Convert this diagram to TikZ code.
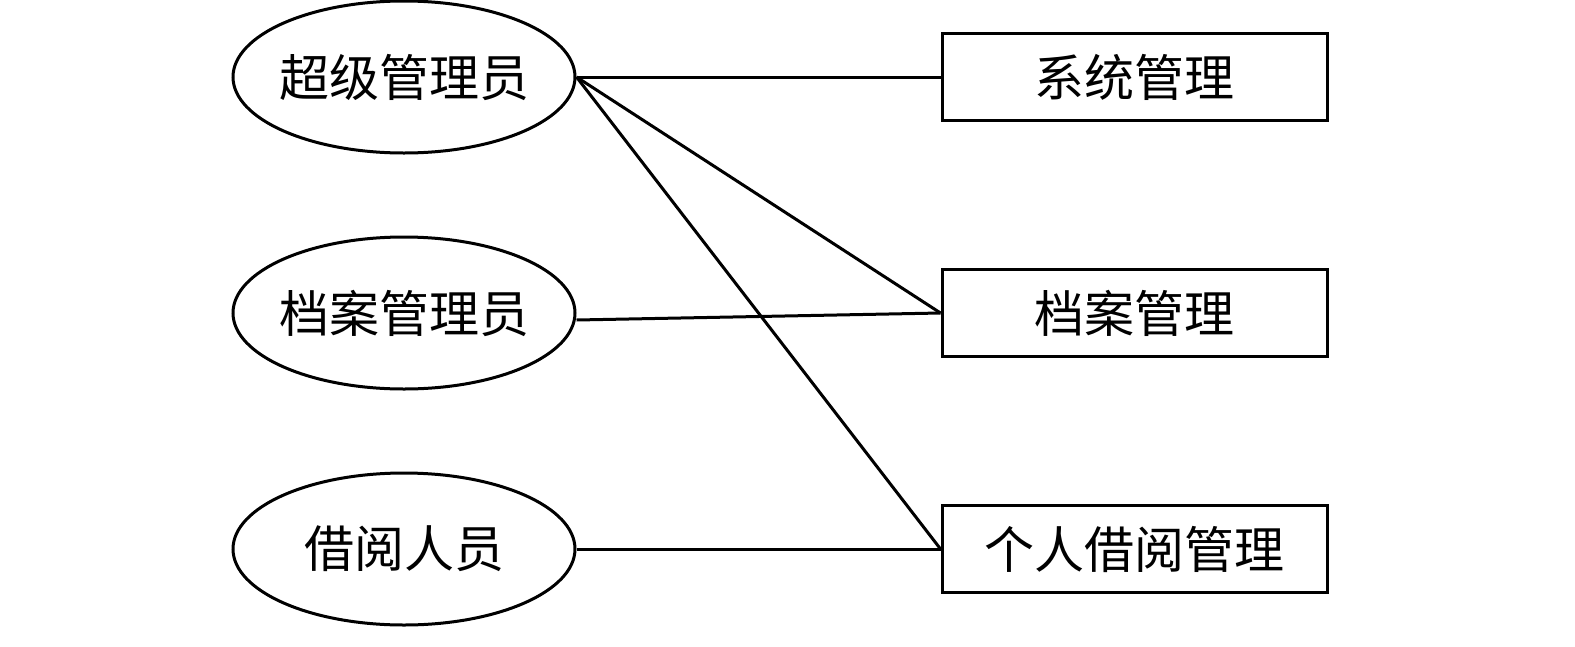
\documentclass[tikz,border=0pt]{standalone}
\usepackage{fontspec}
\setmainfont{Noto Sans CJK SC}
\usetikzlibrary{positioning, shapes.geometric}

\begin{document}
\begin{tikzpicture}[x=1pt, y=-1pt, node distance=81pt and 364pt,
role/.style={ellipse, draw=black, line width=3pt, minimum width=342pt, minimum height=152pt, inner xsep=-10pt, inner ysep=0pt, font=\fontsize{50}{56}\selectfont},
func/.style={rectangle, draw=black, line width=3pt, minimum width=385pt, minimum height=87pt, inner sep=0pt, font=\fontsize{50}{56}\selectfont},
link/.style={line width=3pt} ]
\useasboundingbox (0,0) rectangle (1575,646);
\node (super) [role] at (404,77) {超级管理员};
\node (archiver) [role, below = of super] {档案管理员};
\node (reader) [role, below = of archiver] {借阅人员};
\node (sys) [func, right = of super] {系统管理};
\node (arch) [func, right = of archiver] {档案管理};
\node (borrow) [func, right = of reader] {个人借阅管理};

\draw[link] (super.east) -- (sys.west);
\draw[link] (super.east) -- (arch.west);
\draw[link] (super.east) -- (borrow.west);
\draw[link] ([yshift=-7pt]archiver.east) -- (arch.west);
\draw[link] (reader.east) -- (borrow.west);
\end{tikzpicture}
\end{document}
